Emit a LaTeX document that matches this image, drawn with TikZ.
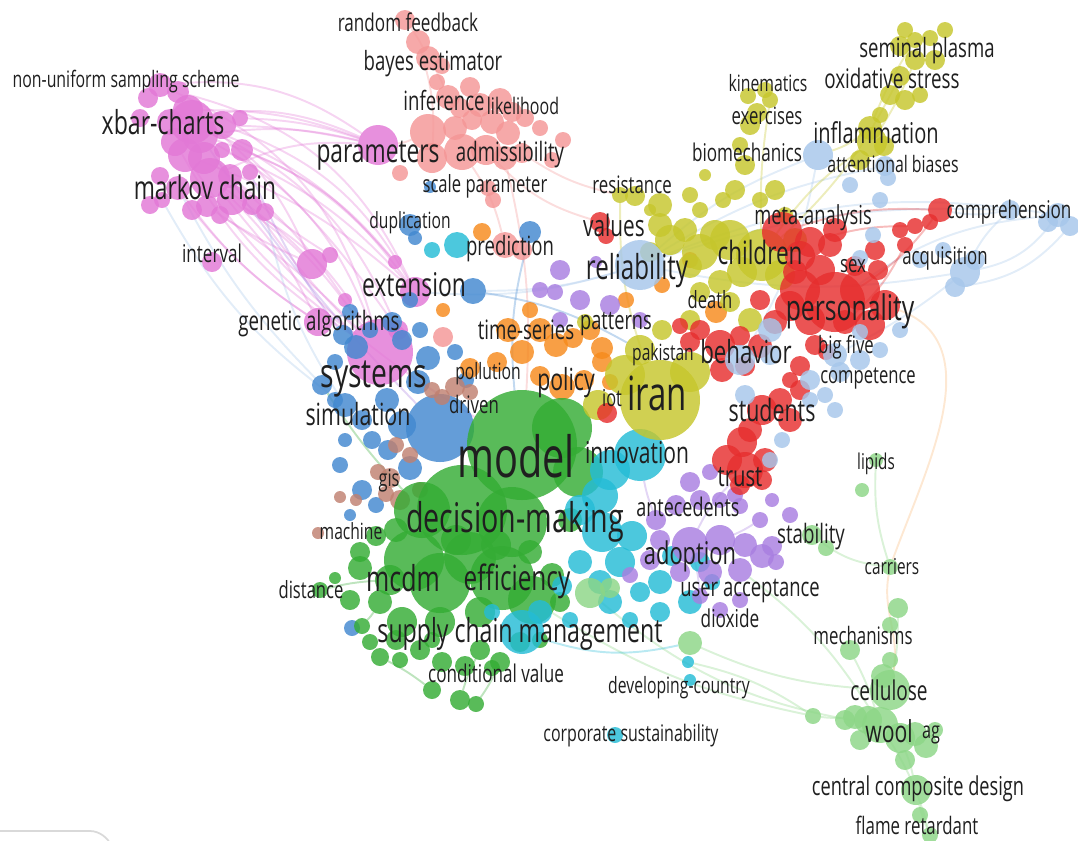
\documentclass[tikz,border=0pt]{standalone}
\usepackage{fontspec}
\setmainfont{Open Sans}[FakeStretch=0.7]
\usetikzlibrary{backgrounds}

\definecolor{cpink}{RGB}{226,120,214}
\definecolor{csalmon}{RGB}{244,150,150}
\definecolor{cblue}{RGB}{66,136,208}
\definecolor{corange}{RGB}{246,138,28}
\definecolor{cbrown}{RGB}{192,128,112}
\definecolor{cgreen}{RGB}{52,172,52}
\definecolor{ccyan}{RGB}{36,188,214}
\definecolor{cpurple}{RGB}{168,126,224}
\definecolor{cyellow}{RGB}{198,198,44}
\definecolor{cred}{RGB}{230,46,46}
\definecolor{clblue}{RGB}{166,198,234}
\definecolor{clgreen}{RGB}{140,214,134}

\tikzset{
  blob/.style={circle,inner sep=0pt,outer sep=0pt,minimum size=2*#1*0.02cm,fill opacity=.82},
  kw/.style={font=\fontsize{#1}{#1}\selectfont,text=black!88,inner sep=0pt,
    anchor=base,yshift=-0.37*#1},
  tie/.style={line width=1.1pt,draw opacity=.32},
}

\begin{document}
\begin{tikzpicture}[x=0.02cm,y=-0.02cm]
\useasboundingbox (0,0) rectangle (1078,840);
\clip (0,0) rectangle (1078,840);

% clusters
\foreach \x/\y/\r [count=\i] in {160/85/12,148/98/10,178/92/11,188/110/15,170/122/13,140/118/9,
  200/135/18,222/125/14,240/118/8,185/155/17,210/178/20,178/188/12,162/200/8,232/200/15,
  252/205/10,220/215/9,192/210/10,207/206/11,250/172/8,222/150/8,212/262/10,312/264/15,
  318/322/14,395/262/7,415/292/15,378/145/20,380/352/33,192/122/22,175/142/14,204/158/16,
  230/176/12,160/176/9,242/150/11,150/205/9,265/212/9,330/255/8,345/300/7,398/330/10}
  \node[blob=\r,fill=cpink] (pk\i) at (\x,\y) {};
\foreach \x/\y/\r [count=\i] in {405/20/10,418/42/12,428/58/12,442/66/8,437/82/8,448/97/12,
  470/87/10,460/108/10,480/105/12,500/100/12,512/112/10,525/118/9,428/132/18,455/128/12,
  472/120/10,492/122/12,508/133/12,540/128/8,462/152/18,486/150/15,505/158/12,522/153/10,
  552/160/8,563/140/8,432/158/15,400/173/8,488/188/8,493/200/8,505/245/13,522/250/10,443/337/10}
  \node[blob=\r,fill=csalmon] (sa\i) at (\x,\y) {};
\foreach \x/\y/\r [count=\i] in {410/225/11,415/238/7,430/187/6,473/291/13,530/232/11,350/312/8,
  343/335/10,356/347/12,335/362/8,322/385/10,345/405/12,362/420/10,387/400/12,402/425/14,
  418/382/12,428/358/12,420/330/8,410/300/8,455/352/8,440/428/34,362/490/10,340/465/8,
  376/505/8,350/515/6,352/628/8,466/380/8,410/468/12,388/450/10,335/400/8,392/322/10,
  402/340/10,370/330/8,345/440/7,372/440/9}
  \node[blob=\r,fill=cblue] (bl\i) at (\x,\y) {};
\foreach \x/\y/\r [count=\i] in {482/232/9,508/330/12,522/352/12,540/330/12,497/362/10,
  556/345/12,573/338/10,590/330/10,602/348/11,540/376/10,562/387/13,584/380/10,602/362/10,
  470/368/10,443/310/7,662/285/8,690/260/8,716/312/11,626/300/8,530/310/8,610/382/8}
  \node[blob=\r,fill=corange] (or\i) at (\x,\y) {};
\foreach \x/\y/\r [count=\i] in {455/387/10,442/397/8,432/390/8,390/478/10,378/472/8,356/500/6,
  340/497/6,400/500/10,386/494/8,318/533/6,410/455/8,396/445/8,470/392/8,420/490/8}
  \node[blob=\r,fill=cbrown] (br\i) at (\x,\y) {};
\foreach \x/\y/\r [count=\i] in {522/445/55,462/510/45,422/510/28,512/522/35,562/428/30,
  578/472/25,414/560/30,440/583/30,502/578/32,532/600/24,470/558/26,390/580/15,360/568/12,
  380/602/12,402/622/15,440/622/15,480/612/15,350/600/10,362/626/8,370/642/8,380/657/9,
  396/640/10,420/650/10,442/662/10,465/666/10,480/650/10,500/662/10,520/642/10,540/640/8,
  432/690/9,460/700/10,476/704/8,492/668/8,320/590/8,335/578/6,360/552/10,376/536/10,
  396/530/12,456/540/15,496/545/15,530/552/12,552/575/12,560/602/10,570/520/12,400/660/8,432/640/8}
  \node[blob=\r,fill=cgreen] (gr\i) at (\x,\y) {};
\foreach \x/\y/\r [count=\i] in {640/455/26,610/470/20,600/496/18,580/510/15,602/532/20,
  632/536/15,620/562/15,600/582/12,580/562/12,562/586/10,610/602/12,640/592/10,660/612/10,
  522/632/22,492/612/8,540/612/12,660/582/12,690/602/12,712/582/8,700/562/10,672/556/10,
  457/245/13,432/250/8,615/735/8,688/662/6,690/680/6,570/620/8,630/620/8}
  \node[blob=\r,fill=ccyan] (cy\i) at (\x,\y) {};
\foreach \x/\y/\r [count=\i] in {690/545/18,720/540/15,745/545/12,762/556/12,740/570/12,
  710/572/12,680/572/10,660/540/10,656/520/10,676/505/10,700/500/10,720/500/8,740/506/8,
  760/520/8,772/500/7,690/482/10,710/472/8,735/495/8,772/546/10,776/562/8,700/596/8,
  720/610/8,740/600/8,560/270/10,555/292/8,580/300/10,610/305/10,640/320/8,560/320/8,
  596/262/6,540/290/8,650/560/10,630/575/8,790/515/8}
  \node[blob=\r,fill=cpurple] (pu\i) at (\x,\y) {};
\foreach \x/\y/\r [count=\i] in {660/400/40,625/375/20,690/372/20,640/350/15,598/405/15,
  700/252/18,730/240/20,762/255/26,715/235/15,690/266/12,670/240/15,650/252/10,660/225/12,
  685/230/12,742/272/15,780/275/15,795/240/12,720/282/12,700/292/10,730/302/10,750/320/12,
  700/210/8,735/190/10,760/200/8,775/190/10,785/215/8,745/165/10,740/145/8,750/125/10,
  757/113/10,770/100/8,765/90/8,748/96/8,723/200/8,690/195/8,620/195/8,635/196/10,660/205/12,
  905/30/8,915/40/8,930/38/8,945/30/8,900/46/10,915/60/10,935/60/10,900/76/10,890/95/10,
  905/100/10,920/95/8,880/115/8,870/128/12,872/142/15,884/146/10,860/160/10,690/320/10,
  662/330/10,585/322/8,705/175/6,650/210/6}
  \node[blob=\r,fill=cyellow] (ye\i) at (\x,\y) {};
\foreach \x/\y/\r [count=\i] in {835/302/30,800/290/20,810/320/15,790/306/15,775/322/12,
  760/300/10,860/290/20,885/305/15,870/325/15,845/322/12,820/270/15,810/242/15,830/245/12,
  800/256/15,795/272/12,855/266/10,875/250/10,900/230/8,915/226/8,940/210/12,930/222/8,
  905/245/8,782/232/20,835/230/12,720/345/15,740/336/10,760/346/12,745/366/10,722/370/12,
  700/330/10,690/342/10,680/326/8,762/410/15,780/400/12,790/420/12,800/390/10,750/430/12,
  742/442/15,727/460/15,745/470/18,762/480/10,765/460/12,607/413/10,600/222/10,606/236/8,
  800/366/10,790/380/8,815/345/10,826/352/8,740/485/10,878/270/10}
  \node[blob=\r,fill=cred] (rd\i) at (\x,\y) {};
\foreach \x/\y/\r [count=\i] in {640/265/25,818/155/15,850/185/8,885/166/10,888/178/8,
  880/200/8,873/235/8,860/258/8,965/272/15,955/287/10,975/260/10,1010/210/10,1058/215/12,
  1070/226/10,1048/222/10,835/355/12,840/372/10,860/360/10,880/350/8,835/410/8,810/400/8,
  825/395/8,810/380/10,860/332/8,770/330/12,770/355/10,745/395/10,740/360/15,770/460/8,
  782/440/8,900/330/8,920/260/8,943/250/8}
  \node[blob=\r,fill=clblue] (lb\i) at (\x,\y) {};
\foreach \x/\y/\r [count=\i] in {876/460/7,862/490/7,812/535/10,826/548/8,890/567/8,898/608/10,
  890/625/8,850/650/10,890/660/8,883/676/12,890/690/20,880/725/18,868/720/14,855/717/12,
  860/740/10,900/738/15,915/734/12,926/746/12,905/760/10,916/790/15,920/815/8,930/835/8,
  813/716/8,690/643/12,590/593/15,610/588/10,845/720/10,935/730/8}
  \node[blob=\r,fill=clgreen] (lg\i) at (\x,\y) {};

% links
\begin{scope}[on background layer]
\foreach \a/\b/\c/\s in {pk7/pk26/cpink/10,pk8/pk26/cpink/5,pk11/pk26/cpink/15,
  pk4/pk26/cpink/10,pk7/pk27/cpink/20,pk11/pk27/cpink/10,pk14/pk27/cpink/15,
  pk10/pk25/cpink/10,pk8/pk25/cpink/20,pk14/pk22/cpink/5,pk11/pk23/cpink/10,
  pk12/pk23/cpink/-10,pk7/pk24/cpink/15,pk4/pk22/cpink/15,pk10/pk27/cpink/-10,
  pk1/pk26/cpink/20,pk3/pk25/cpink/25,pk11/gr1/cpink/-10,pk7/bl20/cpurple/-5,
  pk12/bl10/clblue/-8,pk13/bl11/clblue/-12,pk19/bl7/cpurple/-6,pk15/pk27/cpink/-5,
  pk1/pk27/cpink/25,pk5/pk26/cpink/18,pk20/pk25/cpink/12,pk9/pk26/cpink/8,
  pk18/pk27/cpink/6,pk16/pk22/cpink/-4,pk17/pk23/cpink/-8,pk28/pk38/cpink/20,
  pk30/pk37/cpink/10,pk31/pk36/cpink/-6,pk33/pk24/cpink/14,pk35/bl11/clblue/-10,
  pk28/pk25/cpink/16,pk29/pk27/cpink/-14,pk33/pk38/cpink/6,
  sa19/sa29/csalmon/10,sa13/pk26/csalmon/10,sa1/sa3/csalmon/5,sa3/sa6/csalmon/5,
  sa20/rd44/csalmon/-15,sa21/gr1/csalmon/8,sa22/ye36/csalmon/-10,sa2/sa25/csalmon/10,
  lb13/lb1/clblue/-15,lb12/lb1/clblue/-10,lb9/lb1/clblue/10,lb9/lb16/clblue/5,
  lb13/lb9/clblue/20,lb12/lb9/clblue/-10,lb2/lb1/clblue/-10,lb4/lb1/clblue/-10,
  lb2/lb28/clblue/10,lb13/rd1/clblue/-15,lb12/rd20/clblue/10,lb14/lb10/clblue/20,
  lb1/pk25/clblue/10,lb1/bl4/clblue/8,
  rd20/rd1/cred/10,rd20/rd23/cred/-10,rd19/rd12/cred/-8,rd22/rd10/cred/10,
  ye44/ye52/cyellow/5,ye40/ye51/cyellow/-5,ye52/ye8/cyellow/-10,ye46/ye8/cyellow/10,
  ye31/ye8/cyellow/-5,ye51/lb2/cyellow/10,ye36/ye1/cyellow/-10,
  lg11/lg24/clgreen/10,lg12/lg25/clgreen/15,lg23/gr10/clgreen/10,lg3/lg5/clgreen/-15,
  lg5/lg1/clgreen/10,lg11/lg6/clgreen/-5,lg16/lg20/clgreen/5,lg12/lg22/clgreen/8,
  lg20/lg22/clgreen/-5,lg14/lg23/clgreen/5,lg23/cy25/clgreen/-10,lg8/lg12/clgreen/5,
  lg12/pu5/clgreen/-10,
  gr21/gr30/cgreen/5,gr26/gr31/cgreen/-5,gr27/gr32/cgreen/5,gr14/gr19/cgreen/5,
  gr34/gr12/cgreen/5,gr3/bl10/cgreen/5,
  bl6/pk23/cblue/5,bl5/gr1/cblue/-10,bl4/ye4/cblue/10,
  pu1/pu21/cpurple/5,pu2/pu14/cpurple/-5,pu9/cy1/cpurple/5,pu1/rd40/cpurple/10,
  cy14/lg24/ccyan/-15,cy1/ye1/ccyan/5}
  \draw[tie,draw=\c] (\a) to[bend left=\s] (\b);
\draw[tie,draw=corange!60] (rd8) to[out=-20,in=70] (lg5);
\draw[tie,draw=corange!60] (lg5) to[out=-100,in=80] (lg11);
\end{scope}

% frame corner
\draw[black!15,line width=1pt,rounded corners=9] (-10,831) -- (106,831) -- (116,860);

% labels
\node[kw=13.9pt] (t-random) at (408,22) {random feedback};
\node[kw=15.1pt] (t-bayes) at (433,61) {bayes estimator};
\node[kw=15.1pt] (t-inference) at (444,101) {inference};
\node[kw=13pt] (t-likelihood) at (523,106) {likelihood};
\node[kw=15.2pt] (t-admiss) at (510,152) {admissibility};
\node[kw=18.5pt] (t-param) at (378,150) {parameters};
\node[kw=13.5pt] (t-scale) at (485,184) {scale parameter};
\node[kw=12.7pt] (t-dupl) at (410,220) {duplication};
\node[kw=15.1pt] (t-predict) at (510,246) {prediction};
\node[kw=12.9pt] (t-nonunif) at (126,79) {non-uniform sampling scheme};
\node[kw=18.8pt] (t-xbar) at (163,122) {xbar-charts};
\node[kw=18.5pt] (t-markov) at (205,187) {markov chain};
\node[kw=13.9pt] (t-interval) at (212,253) {interval};
\node[kw=18.6pt] (t-ext) at (414,284) {extension};
\node[kw=15.2pt] (t-genetic) at (319,321) {genetic algorithms};
\node[kw=23pt] (t-systems) at (374,373) {systems};
\node[kw=17.4pt] (t-simul) at (358,414) {simulation};
\node[kw=15.2pt] (t-timeser) at (526,330) {time-series};
\node[kw=14.8pt] (t-patterns) at (616,320) {patterns};
\node[kw=12.8pt] (t-pollution) at (488,371) {pollution};
\node[kw=13.7pt] (t-driven) at (474,405) {driven};
\node[kw=17.3pt] (t-policy) at (566,379) {policy};
\node[kw=13.3pt] (t-iot) at (612,398) {iot};
\node[kw=26.8pt] (t-iran) at (657,393) {iran};
\node[kw=12.7pt] (t-pakistan) at (663,352) {pakistan};
\node[kw=13.5pt] (t-death) at (710,300) {death};
\node[kw=18.1pt] (t-behavior) at (746,352) {behavior};
\node[kw=20.1pt] (t-person) at (850,307) {personality};
\node[kw=13.6pt] (t-bigfive) at (846,345) {big five};
\node[kw=13.5pt] (t-compet) at (868,375) {competence};
\node[kw=17.4pt] (t-students) at (772,410) {students};
\node[kw=13.7pt] (t-sex) at (853,264) {sex};
\node[kw=13.7pt] (t-acquis) at (945,256) {acquisition};
\node[kw=13.9pt] (t-compre) at (1009,209) {comprehension};
\node[kw=14.9pt] (t-meta) at (813,215) {meta-analysis};
\node[kw=18.3pt] (t-children) at (760,253) {children};
\node[kw=19.6pt] (t-reliab) at (637,267) {reliability};
\node[kw=16.9pt] (t-values) at (614,226) {values};
\node[kw=13.7pt] (t-resist) at (632,185) {resistance};
\node[kw=13.9pt] (t-biomech) at (747,152) {biomechanics};
\node[kw=13.6pt] (t-exerc) at (767,116) {exercises};
\node[kw=12.8pt] (t-kinem) at (768,83) {kinematics};
\node[kw=16.3pt] (t-inflam) at (876,133) {inflammation};
\node[kw=12.9pt] (t-attent) at (893,164) {attentional biases};
\node[kw=15.3pt] (t-oxid) at (892,79) {oxidative stress};
\node[kw=15.1pt] (t-seminal) at (927,48) {seminal plasma};
\node[kw=32.3pt] (t-model) at (516,456) {model};
\node[kw=17.1pt] (t-innov) at (637,452) {innovation};
\node[kw=16.5pt] (t-trust) at (740,476) {trust};
\node[kw=12.4pt] (t-lipids) at (876,461) {lipids};
\node[kw=13.3pt] (t-gis) at (389,478) {gis};
\node[kw=23.3pt] (t-decision) at (515,517) {decision-making};
\node[kw=14.6pt] (t-antec) at (688,507) {antecedents};
\node[kw=17.8pt] (t-adopt) at (690,553) {adoption};
\node[kw=12.7pt] (t-machine) at (351,531) {machine};
\node[kw=15.2pt] (t-stab) at (811,534) {stability};
\node[kw=12.5pt] (t-carriers) at (892,566) {carriers};
\node[kw=13.5pt] (t-distance) at (311,590) {distance};
\node[kw=20.3pt] (t-mcdm) at (403,578) {mcdm};
\node[kw=19.8pt] (t-effic) at (517,578) {efficiency};
\node[kw=15pt] (t-user) at (750,587) {user acceptance};
\node[kw=14pt] (t-dioxide) at (730,618) {dioxide};
\node[kw=18.8pt] (t-supply) at (520,630) {supply chain management};
\node[kw=13.7pt] (t-mechan) at (863,636) {mechanisms};
\node[kw=13.9pt] (t-condit) at (496,673) {conditional value};
\node[kw=12.8pt] (t-develop) at (679,685) {developing-country};
\node[kw=15.5pt] (t-cellul) at (889,690) {cellulose};
\node[kw=17.2pt] (t-wool) at (889,731) {wool};
\node[kw=13.2pt] (t-ag) at (931,730) {ag};
\node[kw=13pt] (t-corpor) at (631,733) {corporate sustainability};
\node[kw=14.8pt] (t-central) at (918,786) {central composite design};
\node[kw=13.7pt] (t-flame) at (917,826) {flame retardant};
\end{tikzpicture}
\end{document}
